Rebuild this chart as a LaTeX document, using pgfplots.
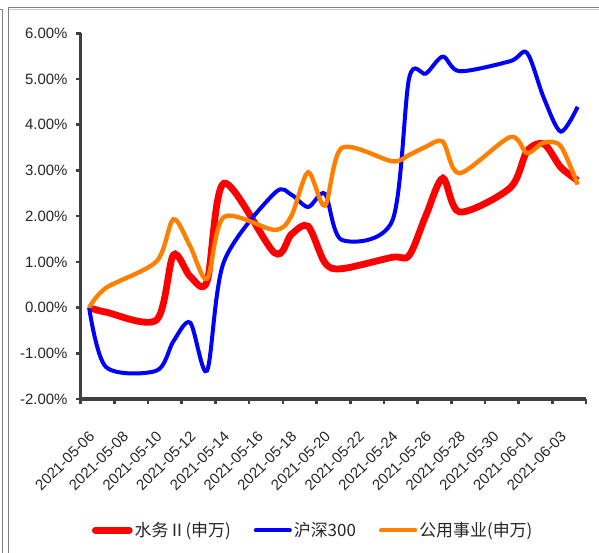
\documentclass[border=0pt]{standalone}
\usepackage{fontspec}
\setmainfont{Liberation Sans}
\newfontfamily\cjk{Noto Sans CJK SC}
\usepackage{pgfplots}
\pgfplotsset{compat=1.18}

\definecolor{swred}{RGB}{255,0,0}
\definecolor{hsblue}{RGB}{0,0,255}
\definecolor{gyorange}{RGB}{255,128,0}
\definecolor{axgray}{RGB}{64,64,64}
\definecolor{framegray}{RGB}{128,128,128}
\definecolor{labelgray}{RGB}{38,38,38}

% day offset from 2021-05-06, cumulative return (%)
\pgfplotstableread{
d   shuiwu  hs300  gongyong
0    0.00    0.00   0.00
1   -0.10   -1.30   0.43
4   -0.27   -1.38   1.01
5    1.15   -0.74   1.93
6    0.68   -0.33   1.34
7    0.57   -1.38   0.63
8    2.72    1.00   1.98
11   1.20    2.50   1.70
12   1.60    2.47   2.00
13   1.78    2.20   2.96
14   0.98    2.49   2.23
15   0.85    1.48   3.49
18   1.10    1.90   3.20
19   1.14    5.02   3.34
20   2.02    5.12   3.52
21   2.83    5.49   3.63
22   2.09    5.17   2.94
25   2.62    5.39   3.73
26   3.42    5.57   3.38
27   3.58    4.58   3.61
28   3.07    3.85   3.53
29   2.78    4.39   2.69
}\returns

\begin{document}
\begin{tikzpicture}[x=1bp,y=1bp]
\useasboundingbox (0,0) rectangle (599,553);
% outer frames
\draw[framegray, line width=1.3bp] (2.7,0) -- (2.7,543.3) -- (0,543.3);
\draw[framegray, line width=1.3bp] (8.3,0) -- (8.3,545.3) -- (599,545.3);
\draw[black!20, line width=0.8bp] (9,544) -- (599,544);

\begin{axis}[
  at={(80.7bp,154bp)}, anchor=south west,
  scale only axis, width=505.3bp, height=365.7bp,
  xmin=-0.5, xmax=29.5, ymin=-2, ymax=6,
  clip=false,
  axis x line*=bottom, axis y line*=left,
  axis line style={-, axgray, line width=3.5bp},
  tick align=outside,
  major tick length=5bp,
  tick style={axgray, line width=2.6bp},
  ytick={-2,-1,...,6},
  /pgf/number format/assume math mode=true,
  yticklabel={\pgfmathprintnumber[fixed,fixed zerofill,precision=2]{\tick}\%},
  yticklabel style={font=\fontsize{15}{18}\selectfont, text=labelgray, anchor=east, inner sep=0pt, xshift=-8bp},
  xtick={-0.5,1.5,...,29.5},
  xticklabels={2021-05-06,2021-05-08,2021-05-10,2021-05-12,2021-05-14,2021-05-16,2021-05-18,2021-05-20,2021-05-22,2021-05-24,2021-05-26,2021-05-28,2021-05-30,2021-06-01,2021-06-03,{}},
  xticklabel style={font=\fontsize{15}{18}\selectfont, text=labelgray, inner sep=0pt, xshift=7.4bp, yshift=-26bp, rotate=45, anchor=north east},
  legend columns=3,
  legend style={at={(axis description cs:0.0218,-0.359)}, anchor=west, draw=none, fill=none,
    inner sep=0pt, font=\cjk\fontsize{17}{20}\selectfont, text=labelgray,
    /tikz/every even column/.append style={column sep=21bp}},
  legend image code/.code={\draw[#1, line cap=round] (0bp,0bp) -- (34bp,0bp);},
]
\addplot[swred, line width=6.8bp, smooth, tension=0.5] table[x=d, y=shuiwu] {\returns};
\addlegendentry{水务Ⅱ(申万)}
\addplot[hsblue, line width=4bp, smooth, tension=0.5] table[x=d, y=hs300] {\returns};
\addlegendentry{沪深300}
\addplot[gyorange, line width=4.4bp, smooth, tension=0.5] table[x=d, y=gongyong] {\returns};
\addlegendentry{公用事业(申万)}
\end{axis}
\end{tikzpicture}
\end{document}
